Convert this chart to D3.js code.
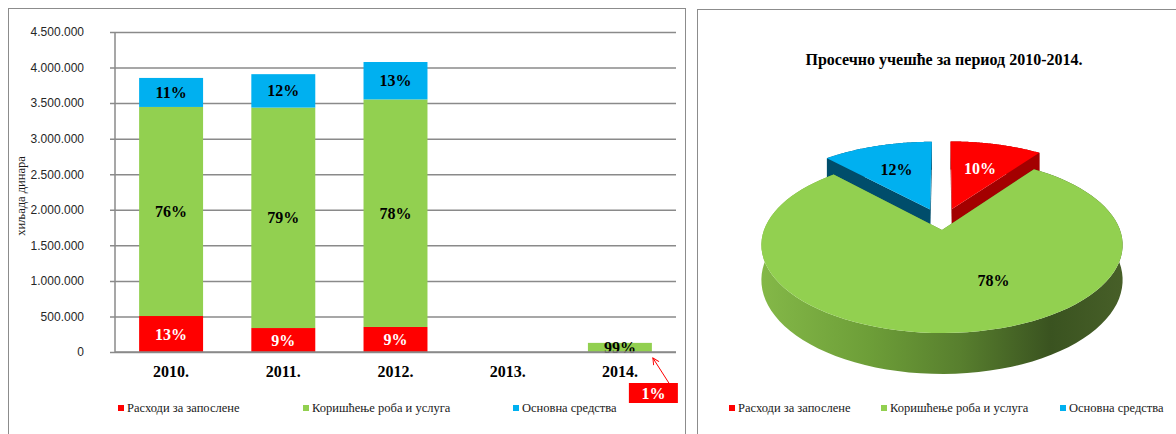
<!DOCTYPE html>
<html lang="sr">
<head>
<meta charset="utf-8">
<title>Расходи</title>
<script src="https://d3js.org/d3.v7.min.js"></script>
<style>
  body { margin: 0; background: #fff; }
  svg { display: block; font-family: "Liberation Serif", "DejaVu Serif", serif; }
  .tick text { font-size: 12px; fill: #262626; }
  .barLabel, .pieLabel { font-size: 16px; font-weight: bold; text-anchor: middle; }
  .yearLabel { font-size: 16px; font-weight: bold; text-anchor: middle; }
  .legendText { font-size: 12.5px; fill: #1a1a1a; }
</style>
</head>
<body>
<script>
  // data
  const years = ["2010.", "2011.", "2012.", "2013.", "2014."];
  const seriesNames = ["Расходи за запослене", "Коришћење роба и услуга", "Основна средства"];
  const salaries = [506000, 337000, 352000, 0, 1300];
  const goods = [2940000, 3100000, 3200000, 0, 127000];
  const assets = [408000, 470000, 526000, 0, 0];
  const yTicks = [0, 500000, 1000000, 1500000, 2000000, 2500000, 3000000, 3500000, 4000000, 4500000];
  const pieTitle = "Просечно учешће за период 2010-2014.";
  const pieShares = [10, 78, 12];
  const yTitle = "хиљада динара";

  const colors = ["#ff0000", "#92d050", "#00b0f0"];
  const darkColors = ["#a30000", "#5d8a30", "#004d6b"];

  const width = 1176, height = 434;
  const svg = d3.select("body").append("svg").attr("width", width).attr("height", height);

  // frames
  svg.append("rect").attr("x", 8.5).attr("y", 8.5).attr("width", 677).attr("height", 500)
    .attr("fill", "none").attr("stroke", "#8c8c8c");
  svg.append("rect").attr("x", 697.5).attr("y", 9.5).attr("width", 600).attr("height", 500)
    .attr("fill", "none").attr("stroke", "#8c8c8c");

  // ---------- bar chart ----------
  const plot = { left: 115, right: 676, top: 32, bottom: 352 };
  const x = d3.scaleBand().domain(years).range([plot.left, plot.right])
    .paddingInner(0.43).paddingOuter(0.215);
  const y = d3.scaleLinear().domain([0, 4500000]).range([plot.bottom, plot.top]);
  const dotFmt = d3.formatLocale({ decimal: ",", thousands: ".", grouping: [3], currency: ["", ""] }).format(",d");

  const yAxis = d3.axisLeft(y).tickValues(yTicks).tickFormat(dotFmt)
    .tickSize(-(plot.right - plot.left)).tickPadding(31);
  const yG = svg.append("g").attr("transform", `translate(${plot.left},0)`).call(yAxis);
  yG.select(".domain").remove();
  yG.selectAll(".tick line").attr("stroke", "#8a8a8a").attr("stroke-width", 1.5).attr("x1", -5);
  svg.append("line").attr("x1", plot.left).attr("x2", plot.left).attr("y1", plot.top).attr("y2", plot.bottom)
    .attr("stroke", "#8a8a8a").attr("stroke-width", 1.5);

  const table = years.map((yr, i) => ({ year: yr, s0: salaries[i], s1: goods[i], s2: assets[i] }));
  const keys = ["s0", "s1", "s2"];
  const stacked = d3.stack().keys(keys)(table);
  const pct = d3.format(".0%");

  stacked.forEach((layer, k) => {
    svg.append("g").selectAll("rect").data(layer).join("rect")
      .attr("x", d => x(d.data.year))
      .attr("width", x.bandwidth())
      .attr("y", d => y(d[1]))
      .attr("height", d => y(d[0]) - y(d[1]))
      .attr("fill", colors[k]);
  });

  // percent labels inside segments
  stacked.forEach((layer, k) => {
    layer.forEach(d => {
      const total = d.data.s0 + d.data.s1 + d.data.s2;
      const v = d[1] - d[0];
      if (!total || !v) return;
      if (v / total < 0.05) return; // tiny slice gets a callout
      svg.append("text").attr("class", "barLabel")
        .attr("x", x(d.data.year) + x.bandwidth() / 2)
        .attr("y", (y(d[0]) + y(d[1])) / 2)
        .attr("dy", "0.35em")
        .attr("fill", k === 0 ? "#fff" : "#000")
        .text(pct(v / total));
    });
  });

  // callout for small 2014 share
  const yr14 = "2014.";
  const i14 = years.indexOf(yr14);
  const tot14 = salaries[i14] + goods[i14] + assets[i14];
  const barRight = x(yr14) + x.bandwidth();
  const boxX = barRight - 23, boxY = y(0) + 31;
  svg.append("defs").append("marker").attr("id", "arr").attr("viewBox", "0 0 10 10")
    .attr("refX", 9).attr("refY", 5).attr("markerWidth", 8).attr("markerHeight", 8).attr("orient", "auto")
    .append("path").attr("d", "M1,1 L9,5 L1,9").attr("fill", "none").attr("stroke", "#ff0000").attr("stroke-width", 1.2);
  svg.append("line").attr("x1", boxX + 40).attr("y1", boxY).attr("x2", barRight + 1).attr("y2", y(0) + 6)
    .attr("stroke", "#ff0000").attr("stroke-width", 1).attr("marker-end", "url(#arr)");
  svg.append("rect").attr("x", boxX).attr("y", boxY).attr("width", 49).attr("height", 20).attr("fill", "#ff0000");
  svg.append("text").attr("class", "barLabel").attr("fill", "#fff")
    .attr("x", boxX + 24.5).attr("y", boxY + 10).attr("dy", "0.36em")
    .text(pct(salaries[i14] / tot14));

  // x axis baseline and labels
  svg.append("line").attr("x1", plot.left).attr("x2", plot.right).attr("y1", plot.bottom).attr("y2", plot.bottom)
    .attr("stroke", "#8a8a8a").attr("stroke-width", 1.5);
  svg.append("g").selectAll("text").data(years).join("text").attr("class", "yearLabel")
    .attr("x", d => x(d) + x.bandwidth() / 2).attr("y", 377).text(d => d);

  // y title
  svg.append("text").attr("transform", "translate(25,196) rotate(-90)")
    .attr("text-anchor", "middle").attr("font-size", 12.5).attr("fill", "#1a1a1a").text(yTitle);

  // bar legend
  const legL = [118, 303, 513];
  seriesNames.forEach((n, k) => {
    svg.append("rect").attr("x", legL[k]).attr("y", 405).attr("width", 6).attr("height", 6).attr("fill", colors[k]);
    svg.append("text").attr("class", "legendText").attr("x", legL[k] + 9).attr("y", 412).text(n);
  });

  // ---------- 3D pie ----------
  svg.append("text").attr("x", 944).attr("y", 65).attr("text-anchor", "middle")
    .attr("font-size", 16).attr("font-weight", "bold").text(pieTitle);

  const P = { cx: 942, cy: 230, A: 178, B: 85.5, q: 0.17, H: 34 };
  const explode = [0.27, 0, 0.27];
  function proj(u, v, z) {
    const w = 1 + P.q * v;
    return [P.cx + P.A * u / w, P.cy - P.B * v / w + P.H * z / w];
  }
  const arcs = d3.pie().sort(null).value(d => d)(pieShares);
  const lineGen = d3.line();

  const grad = svg.select("defs").append("linearGradient").attr("id", "wallGrad")
    .attr("gradientUnits", "userSpaceOnUse").attr("x1", 761).attr("x2", 1123).attr("y1", 0).attr("y2", 0);
  [[0, "#84b848"], [0.3, "#6d9e38"], [0.55, "#587f2e"], [0.8, "#3a5320"], [1, "#475f28"]]
    .forEach(s => grad.append("stop").attr("offset", s[0]).attr("stop-color", s[1]));

  function slice(a, k) {
    const mid = (a.startAngle + a.endAngle) / 2;
    const ou = explode[k] * Math.sin(mid) * 0.7, ov = explode[k] * Math.cos(mid);
    const pt = (t, r, z) => proj(ou + r * Math.sin(t), ov + r * Math.cos(t), z);
    const n = 90;
    const ang = d3.range(n + 1).map(i => a.startAngle + (a.endAngle - a.startAngle) * i / n);
    const g = svg.append("g");
    const sideFill = k === 1 ? "url(#wallGrad)" : darkColors[k];
    // outer wall
    const wall = ang.map(t => pt(t, 1, 0)).concat(ang.slice().reverse().map(t => pt(t, 1, 1)));
    g.append("path").attr("d", lineGen(wall) + "Z").attr("fill", sideFill);
    // cut faces
    [a.startAngle, a.endAngle].forEach(t => {
      const f = [pt(t, 0, 0), pt(t, 1, 0), pt(t, 1, 1), pt(t, 0, 1)];
      g.append("path").attr("d", lineGen(f) + "Z").attr("fill", sideFill);
    });
    // top face
    const top = [pt(0, 0, 0)].concat(ang.map(t => pt(t, 1, 0)));
    g.append("path").attr("d", lineGen(top) + "Z").attr("fill", colors[k]);
    return { pt, mid };
  }
  // back slices first
  const drawn = [];
  [0, 2, 1].forEach(k => { drawn[k] = slice(arcs[k], k); });

  const labelAngle = [null, 154 * Math.PI / 180, null];
  [0, 1, 2].forEach(k => {
    const s = drawn[k];
    const p = s.pt(labelAngle[k] !== null ? labelAngle[k] : s.mid, 0.6, 0);
    svg.append("text").attr("class", "pieLabel").attr("x", p[0]).attr("y", p[1]).attr("dy", "0.35em")
      .attr("fill", k === 0 ? "#fff" : "#000").text(pieShares[k] + "%");
  });

  // pie legend
  const legR = [729, 881, 1060];
  seriesNames.forEach((n, k) => {
    svg.append("rect").attr("x", legR[k]).attr("y", 405).attr("width", 6).attr("height", 6).attr("fill", colors[k]);
    svg.append("text").attr("class", "legendText").attr("x", legR[k] + 9).attr("y", 412).text(n);
  });
</script>
</body>
</html>
